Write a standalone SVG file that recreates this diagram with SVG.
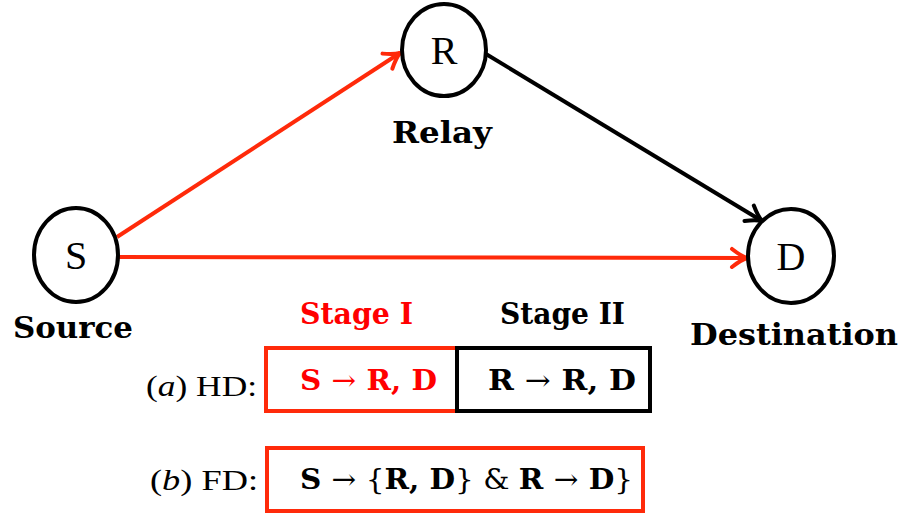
<svg xmlns="http://www.w3.org/2000/svg" width="902" height="515" viewBox="0 0 902 515">
<defs>
<style>
.node{fill:#fff;stroke:#000;stroke-width:4}
.nl{font-family:"Liberation Serif",serif;font-size:40px;text-anchor:middle}
.lbl{font-family:"DejaVu Serif",serif;font-weight:bold;font-size:29px}
.red{stroke:#ff2a0a}
.blk{stroke:#000}
.conn line{stroke-width:4;fill:none}
.box{fill:none;stroke-width:4}
.mt{font-family:"DejaVu Serif",serif;font-weight:bold;font-size:28px}
.rm{font-family:"Liberation Serif",serif;font-size:30px}
</style>
<marker id="ar" markerUnits="userSpaceOnUse" markerWidth="26" markerHeight="26" viewBox="-20 -13 26 26" refX="0" refY="0" orient="auto">
<path d="M-15,-9 Q-6,-2 0,0 Q-6,2 -15,9" fill="none" stroke="#ff2a0a" stroke-width="4" stroke-linecap="round" stroke-linejoin="round"/>
</marker>
<marker id="ab" markerUnits="userSpaceOnUse" markerWidth="26" markerHeight="26" viewBox="-20 -13 26 26" refX="0" refY="0" orient="auto">
<path d="M-15,-9 Q-6,-2 0,0 Q-6,2 -15,9" fill="none" stroke="#000" stroke-width="4" stroke-linecap="round" stroke-linejoin="round"/>
</marker>
</defs>
<rect width="902" height="515" fill="#fff"/>
<g id="connectors" class="conn">
<line class="red" x1="117" y1="237" x2="400" y2="53" marker-end="url(#ar)"/>
<line class="red" x1="119" y1="257" x2="747" y2="258" marker-end="url(#ar)"/>
<line class="blk" x1="486" y1="54" x2="762" y2="221" marker-end="url(#ab)"/>
</g>
<g id="node-S">
<ellipse class="node" cx="76" cy="255" rx="42" ry="47"/>
<text class="nl" x="76" y="269">S</text>
<text class="lbl" x="13" y="338" textLength="120" lengthAdjust="spacingAndGlyphs">Source</text>
</g>
<g id="node-R">
<ellipse class="node" cx="444" cy="50" rx="42" ry="46"/>
<text class="nl" x="444" y="64">R</text>
<text class="lbl" x="392" y="143" textLength="100" lengthAdjust="spacingAndGlyphs">Relay</text>
</g>
<g id="node-D">
<ellipse class="node" cx="791" cy="256" rx="43" ry="47"/>
<text class="nl" x="791" y="270">D</text>
<text class="lbl" x="690" y="345" textLength="208" lengthAdjust="spacingAndGlyphs">Destination</text>
</g>
<g id="stage-labels">
<text class="lbl" x="300" y="324" fill="#ff0000" font-size="26" textLength="113" lengthAdjust="spacingAndGlyphs">Stage I</text>
<text class="lbl" x="500" y="324" fill="#000" font-size="26" textLength="125" lengthAdjust="spacingAndGlyphs">Stage II</text>
</g>
<g id="hd">
<text class="rm" x="146" y="396" textLength="111" lengthAdjust="spacingAndGlyphs">(<tspan font-style="italic">a</tspan>) HD:</text>
<rect class="box red" x="266" y="348" width="191" height="63"/>
<rect class="box blk" x="457" y="348" width="193" height="63"/>
<text class="mt" x="300" y="390" fill="#ff0000" textLength="137" lengthAdjust="spacingAndGlyphs">S <tspan font-weight="normal">→</tspan> R, D</text>
<text class="mt" x="488" y="390" fill="#000" textLength="148" lengthAdjust="spacingAndGlyphs">R <tspan font-weight="normal">→</tspan> R, D</text>
</g>
<g id="fd">
<text class="rm" x="150" y="490" textLength="108" lengthAdjust="spacingAndGlyphs">(<tspan font-style="italic">b</tspan>) FD:</text>
<rect class="box red" x="267" y="448" width="376" height="63"/>
<text class="mt" x="300" y="489" fill="#000" textLength="333" lengthAdjust="spacingAndGlyphs">S <tspan font-weight="normal">→ {</tspan>R, D<tspan font-weight="normal">} &amp; </tspan>R <tspan font-weight="normal">→</tspan> D<tspan font-weight="normal">}</tspan></text>
</g>
</svg>
